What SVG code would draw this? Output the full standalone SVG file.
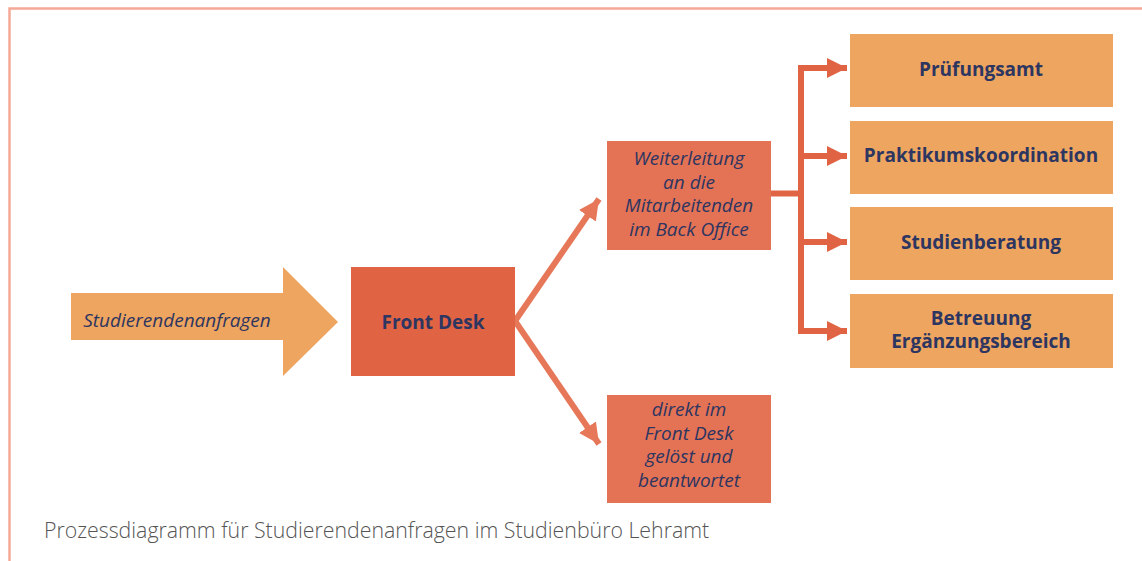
<svg xmlns="http://www.w3.org/2000/svg" width="1142" height="561" viewBox="0 0 1142 561">
<defs>
<style>
.lbl{font-family:"Open Sans","Liberation Sans",sans-serif;fill:#2D3561;text-anchor:middle}
.it{font-style:italic;font-size:19px}
.bd{font-weight:bold;font-size:19px}
.con{stroke:#E06444;stroke-width:6;fill:none}
.dia{stroke:#E67759;stroke-width:6;fill:none}
</style>
<marker id="ah" markerWidth="4" markerHeight="4" refX="3.4" refY="2" orient="auto" markerUnits="strokeWidth">
<path d="M0,0.3 L3.4,2 L0,3.7 Z" fill="#E06444"/>
</marker>
<marker id="ah2" markerWidth="4" markerHeight="4" refX="3.4" refY="2" orient="auto" markerUnits="strokeWidth">
<path d="M0,0.3 L3.4,2 L0,3.7 Z" fill="#E67759"/>
</marker>
</defs>
<rect width="1142" height="561" fill="#fff"/>
<path d="M9.5 561 V8.5 H1142" fill="none" stroke="#F5A896" stroke-width="2.5"/>

<g id="connectors">
<path class="dia" d="M515 321 L599 199" marker-end="url(#ah2)"/>
<path class="dia" d="M515 321 L599 444" marker-end="url(#ah2)"/>
<path class="con" d="M771 193.5 H801"/>
<path class="con" d="M801 68 V331"/>
<path class="con" d="M798 68 H847" marker-end="url(#ah)"/>
<path class="con" d="M801 156 H847" marker-end="url(#ah)"/>
<path class="con" d="M801 242 H847" marker-end="url(#ah)"/>
<path class="con" d="M798 331 H847" marker-end="url(#ah)"/>
</g>

<g id="input">
<polygon points="71,293 283,293 283,267 338,322 283,376 283,340 71,340" fill="#EEA55F"/>
<text class="lbl it" x="177" y="327">Studierendenanfragen</text>
</g>

<g id="frontdesk">
<rect x="351" y="267" width="164" height="109" fill="#E06444"/>
<text class="lbl bd" x="433" y="329">Front Desk</text>
</g>

<g id="weiterleitung">
<rect x="607" y="141" width="164" height="109" fill="#E47355"/>
<text class="lbl it" x="689" y="165">Weiterleitung</text>
<text class="lbl it" x="689" y="188.5">an die</text>
<text class="lbl it" x="689" y="212">Mitarbeitenden</text>
<text class="lbl it" x="689" y="235.5">im Back Office</text>
</g>

<g id="direkt">
<rect x="607" y="395" width="164" height="108" fill="#E47355"/>
<text class="lbl it" x="689" y="416">direkt im</text>
<text class="lbl it" x="689" y="440">Front Desk</text>
<text class="lbl it" x="689" y="463">gelöst und</text>
<text class="lbl it" x="689" y="486.5">beantwortet</text>
</g>

<g id="pruefungsamt">
<rect x="850" y="34" width="263" height="73" fill="#EDA560"/>
<text class="lbl bd" x="981" y="76">Prüfungsamt</text>
</g>
<g id="praktikum">
<rect x="850" y="121" width="263" height="73" fill="#EDA560"/>
<text class="lbl bd" x="981" y="162">Praktikumskoordination</text>
</g>
<g id="studienberatung">
<rect x="850" y="207" width="263" height="73" fill="#EDA560"/>
<text class="lbl bd" x="981" y="249">Studienberatung</text>
</g>
<g id="betreuung">
<rect x="850" y="294" width="263" height="74" fill="#EDA560"/>
<text class="lbl bd" x="981" y="325">Betreuung</text>
<text class="lbl bd" x="981" y="348">Ergänzungsbereich</text>
</g>

<text x="44" y="538" font-family="'Open Sans','Liberation Sans',sans-serif" font-size="21.3" font-weight="300" fill="#555">Prozessdiagramm für Studierendenanfragen im Studienbüro Lehramt</text>
</svg>
